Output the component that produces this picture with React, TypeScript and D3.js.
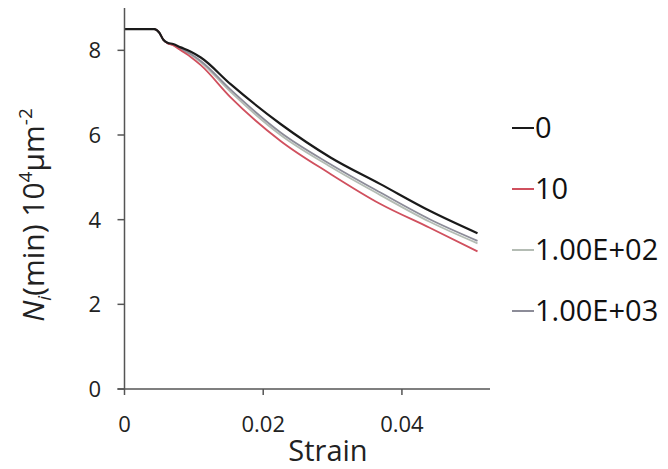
import React from "react";
import * as d3 from "d3";

const strain = [0, 0.0043, 0.005, 0.0056, 0.0062, 0.007, 0.0081, 0.0095, 0.011, 0.0153, 0.0225, 0.0297, 0.0369, 0.044, 0.0509];
const n0 = [8.5, 8.5, 8.42, 8.25, 8.18, 8.15, 8.07, 7.97, 7.83, 7.2, 6.26, 5.47, 4.84, 4.21, 3.68];
const n10 = [8.5, 8.5, 8.42, 8.25, 8.17, 8.12, 8.0, 7.85, 7.65, 6.89, 5.86, 5.08, 4.37, 3.81, 3.25];
const n100 = [8.5, 8.5, 8.42, 8.25, 8.17, 8.13, 8.02, 7.9, 7.72, 7.02, 6.0, 5.25, 4.58, 3.95, 3.44];
const n1000 = [8.5, 8.5, 8.42, 8.25, 8.17, 8.14, 8.04, 7.92, 7.75, 7.07, 6.06, 5.31, 4.64, 4.01, 3.5];

const seriesNames = ["0", "10", "1.00E+02", "1.00E+03"];
const seriesValues = [n0, n10, n100, n1000];
const seriesColors = ["#1a1a1a", "#d0505e", "#b4bcb4", "#8c8c98"];

const xTicks = [0, 0.02, 0.04];
const xTickLabels = ["0", "0.02", "0.04"];
const yTicks = [0, 2, 4, 6, 8];

const FONT = "'Open Sans', sans-serif";

export default function App() {
  const x = d3.scaleLinear().domain([0, 0.0527]).range([124.5, 490]);
  const y = d3.scaleLinear().domain([0, 9]).range([389, 8]);
  const line = d3
    .line<number>()
    .x((_, i) => x(strain[i]))
    .y((v) => y(v))
    .curve(d3.curveMonotoneX);

  const axisColor = "#555";
  const drawOrder = [2, 3, 1, 0];

  return (
    <svg
      width={668}
      height={469}
      style={{ position: "absolute", left: 0, top: 0, background: "#fff" }}
      fontFamily={FONT}
    >
      {/* series */}
      {drawOrder.map((si) => (
        <path
          key={si}
          d={line(seriesValues[si]) || ""}
          fill="none"
          stroke={seriesColors[si]}
          strokeWidth={si === 0 ? 2.2 : 1.8}
        />
      ))}

      {/* y axis */}
      <line x1={x(0)} x2={x(0)} y1={y(9)} y2={y(0)} stroke={axisColor} strokeWidth={1.5} />
      {yTicks.map((t) => (
        <g key={t}>
          <line x1={x(0) - 7} x2={x(0)} y1={y(t)} y2={y(t)} stroke={axisColor} strokeWidth={1.5} />
          <text x={101} y={y(t)} dy="0.36em" textAnchor="end" fontSize={22} fill="#222">
            {t}
          </text>
        </g>
      ))}

      {/* x axis */}
      <line x1={x(0) - 7} x2={x(0.0527)} y1={y(0)} y2={y(0)} stroke={axisColor} strokeWidth={1.5} />
      {xTicks.map((t, i) => (
        <g key={t}>
          <line x1={x(t)} x2={x(t)} y1={y(0)} y2={y(0) + 6} stroke={axisColor} strokeWidth={1.5} />
          <text x={x(t)} y={432} textAnchor="middle" fontSize={22} fill="#222">
            {xTickLabels[i]}
          </text>
        </g>
      ))}
      <text x={328} y={461} textAnchor="middle" fontSize={29} fill="#222">
        Strain
      </text>

      {/* y label */}
      <text transform="translate(44,215) rotate(-90)" textAnchor="middle" fontSize={30} fill="#222">
        <tspan fontStyle="italic">N</tspan>
        <tspan fontStyle="italic" fontSize={19} dy={7}>i</tspan>
        <tspan dy={-7}>(min) 10</tspan>
        <tspan fontSize={19} dy={-12}>4</tspan>
        <tspan dy={12}>μm</tspan>
        <tspan fontSize={19} dy={-12}>-2</tspan>
      </text>

      {/* legend */}
      {seriesNames.map((name, i) => {
        const ly = 128 + i * 61;
        return (
          <g key={name}>
            <line x1={512} x2={534} y1={ly} y2={ly} stroke={seriesColors[i]} strokeWidth={2} />
            <text x={535} y={ly} dy="0.36em" fontSize={29} fill="#111">
              {name}
            </text>
          </g>
        );
      })}
    </svg>
  );
}
